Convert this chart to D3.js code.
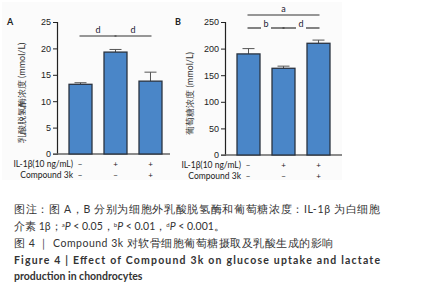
<!DOCTYPE html>
<html>
<head>
<meta charset="utf-8">
<script src="https://cdn.jsdelivr.net/npm/d3@7"></script>
<style>
  body { margin: 0; background: #fff; }
  svg { display: block; font-family: Lato, "Open Sans", sans-serif; }
</style>
</head>
<body>
<svg id="chart" width="434" height="290"></svg>
<script>
const groups = ['ctrl', 'il1b', 'il1b_ck'];
const lactateValues = [13.2, 19.3, 13.8];
const lactateErrors = [0.3, 0.5, 1.7];
const glucoseValues = [190, 163, 210];
const glucoseErrors = [10, 4, 6];
const lactateTicks = [0, 5, 10, 15, 20, 25];
const glucoseTicks = [0, 50, 100, 150, 200, 250];
const il1bRow = ['−', '+', '+'];
const ck3Row = ['−', '−', '+'];

const captionLines = [
  '图注：图 A，B 分别为细胞外乳酸脱氢酶和葡萄糖浓度：IL-1β 为白细胞',
  '介素 1β；ᵃP < 0.05，ᵇP < 0.01，ᵈP < 0.001。',
  '图 4 ｜ Compound 3k 对软骨细胞葡萄糖摄取及乳酸生成的影响',
];

const svg = d3.select('#chart');

const drawPanel = ({ letter, axisX, y0, yMax, ticks, values, errors, label, sigs }) => {
  const g = svg.append('g');
  g.append('rect')
    .attr('x', axisX - 55).attr('y', 2)
    .attr('width', 172).attr('height', 178)
    .attr('fill', '#fbfbfb');

  const x = d3.scaleBand().domain(groups).range([axisX, axisX + 117])
    .paddingInner(0.343).paddingOuter(0.343);
  const y = d3.scaleLinear().domain([0, yMax]).range([y0, 22]);

  const yAxis = d3.axisLeft(y).tickValues(ticks).tickSize(4).tickPadding(2);
  const ya = g.append('g').attr('transform', `translate(${axisX},0)`).call(yAxis);
  ya.select('.domain').attr('stroke', '#222').attr('stroke-width', 1.2);
  ya.selectAll('.tick line').attr('stroke', '#222');
  ya.selectAll('.tick text').attr('fill', '#222').style('font-size', '9px');

  g.append('line')
    .attr('x1', axisX - 4).attr('x2', axisX + 117)
    .attr('y1', y0).attr('y2', y0)
    .attr('stroke', '#666').attr('stroke-width', 1.5);

  g.append('text')
    .attr('x', axisX - 50).attr('y', 22)
    .attr('font-weight', 'bold').style('font-size', '9px').attr('fill', '#222')
    .attr('dy', '0.35em')
    .text(letter);

  g.append('text')
    .attr('transform', `translate(${axisX - 32},${(y0 + 22) / 2 + 5}) rotate(-90)`)
    .attr('text-anchor', 'middle')
    .style('font-size', '9px').attr('fill', '#333')
    .text(label);

  // error bars (behind bars)
  groups.forEach((k, i) => {
    const cx = x(k) + x.bandwidth() / 2;
    g.append('line')
      .attr('x1', cx).attr('x2', cx)
      .attr('y1', y(values[i])).attr('y2', y(values[i] + errors[i]))
      .attr('stroke', '#555').attr('stroke-width', 1);
    g.append('line')
      .attr('x1', cx - 6).attr('x2', cx + 6)
      .attr('y1', y(values[i] + errors[i])).attr('y2', y(values[i] + errors[i]))
      .attr('stroke', '#555').attr('stroke-width', 1);
  });

  g.selectAll('rect.bar')
    .data(groups)
    .join('rect')
    .attr('class', 'bar')
    .attr('x', (d) => x(d))
    .attr('y', (d, i) => y(values[i]))
    .attr('width', x.bandwidth())
    .attr('height', (d, i) => y0 - y(values[i]))
    .attr('fill', '#4a86c8')
    .attr('stroke', '#2a3340')
    .attr('stroke-width', 1.3);

  sigs.forEach((s) => {
    const xa = x(groups[s.from]) + x.bandwidth() / 2 - 1;
    const xb = x(groups[s.to]) + x.bandwidth() / 2 + 1;
    const mid = (xa + xb) / 2;
    const gap = s.gap || 0;
    if (gap) {
      g.append('line').attr('x1', xa).attr('x2', mid - gap).attr('y1', s.y).attr('y2', s.y)
        .attr('stroke', '#333').attr('stroke-width', 1.2);
      g.append('line').attr('x1', mid + gap).attr('x2', xb).attr('y1', s.y).attr('y2', s.y)
        .attr('stroke', '#333').attr('stroke-width', 1.2);
    } else {
      g.append('line').attr('x1', xa).attr('x2', xb).attr('y1', s.y).attr('y2', s.y)
        .attr('stroke', '#333').attr('stroke-width', 1.2);
    }
    g.append('text')
      .attr('x', mid).attr('y', s.y - (gap ? 1 : 3))
      .attr('text-anchor', 'middle')
      .style('font-size', '9px').attr('fill', '#223')
      .text(s.label);
  });

  // treatment rows
  const rows = [
    { name: 'IL-1β(10 ng/mL)', marks: il1bRow, y: y0 + 13 },
    { name: 'Compound 3k', marks: ck3Row, y: y0 + 24 },
  ];
  rows.forEach((r) => {
    g.append('text')
      .attr('x', axisX + 16).attr('y', r.y)
      .attr('text-anchor', 'end')
      .style('font-size', '8.5px').attr('fill', '#222')
      .text(r.name);
    r.marks.forEach((m, i) => {
      const cx = x(groups[i]) + (i === 0 ? 0 : x.bandwidth() / 2);
      g.append('text')
        .attr('x', i === 0 ? axisX + 23 : cx).attr('y', r.y)
        .attr('text-anchor', 'middle')
        .style('font-size', '8px').attr('fill', '#222')
        .text(m);
    });
  });
};

drawPanel({
  letter: 'A', axisX: 57, y0: 154, yMax: 25, ticks: lactateTicks,
  values: lactateValues, errors: lactateErrors,
  label: '乳酸脱氢酶浓度 (mmol/L)',
  sigs: [
    { from: 0, to: 1, y: 36, label: 'd' },
    { from: 1, to: 2, y: 36, label: 'd' },
  ],
});

drawPanel({
  letter: 'B', axisX: 225, y0: 155, yMax: 250, ticks: glucoseTicks,
  values: glucoseValues, errors: glucoseErrors,
  label: '葡萄糖浓度 (mmol/L)',
  sigs: [
    { from: 0, to: 2, y: 15, label: 'a' },
    { from: 0, to: 1, y: 28, label: 'b', gap: 5 },
    { from: 1, to: 2, y: 28, label: 'd', gap: 5 },
  ],
});

// caption
const cap = svg.append('g').attr('fill', '#333');
cap.append('text').attr('x', 14).attr('y', 213).style('font-size', '10.5px')
  .attr('textLength', 366).attr('lengthAdjust', 'spacing').text(captionLines[0]);

const l2 = cap.append('text').attr('x', 14).attr('y', 230).style('font-size', '10.5px');
l2.append('tspan').text('介素 1β；');
[['a', '0.05，'], ['b', '0.01，'], ['d', '0.001。']].forEach(([s, v]) => {
  l2.append('tspan').attr('dy', -3).style('font-size', '6px').text(s);
  l2.append('tspan').attr('dy', 3).style('font-style', 'italic').text('P');
  l2.append('tspan').text(' < ' + v);
});

cap.append('text').attr('x', 14).attr('y', 247).style('font-size', '10.5px')
  .attr('textLength', 319).attr('lengthAdjust', 'spacing').text(captionLines[2]);

cap.append('text').attr('x', 14).attr('y', 264).style('font-size', '10.5px')
  .attr('font-weight', 'bold')
  .attr('textLength', 366).attr('lengthAdjust', 'spacing')
  .text('Figure 4  |  Effect of Compound 3k on glucose uptake and lactate');

cap.append('text').attr('x', 14).attr('y', 280).style('font-size', '10.5px')
  .attr('font-weight', 'bold')
  .text('production in chondrocytes');
</script>
</body>
</html>
